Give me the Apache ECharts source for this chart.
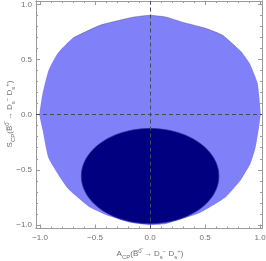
<!DOCTYPE html>
<html><head><meta charset="utf-8">
<script src="https://cdn.jsdelivr.net/npm/echarts@6/dist/echarts.min.js"></script>
<style>html,body{margin:0;padding:0;background:#fff}#c{width:266px;height:261px}</style>
</head><body><div id="c"></div>
<script>
// axis ranges and ticks
const xRange = [-1.037, 1.017];
const yRange = [-1.033, 1.032];
const majorTicks = [-1, -0.5, 0, 0.5, 1];
const minorTicks = [-0.9, -0.8, -0.7, -0.6, -0.4, -0.3, -0.2, -0.1, 0.1, 0.2, 0.3, 0.4, 0.6, 0.7, 0.8, 0.9];

// allowed region (light blue), boundary points clockwise
const regionX = [-0.705, -0.46, -0.16, 0.0, 0.15, 0.295, 0.505, 0.66, 0.84, 0.905, 0.977, 1.005, 0.986, 0.959, 0.914, 0.823, 0.677, 0.45, 0.14, 0.0, -0.16, -0.368, -0.55, -0.75, -0.923, -0.977, -1.005, -0.977, -0.923, -0.84];
const regionY = [0.694, 0.81, 0.884, 0.902, 0.885, 0.839, 0.784, 0.72, 0.558, 0.467, 0.286, 0.014, -0.14, -0.295, -0.44, -0.594, -0.757, -0.893, -0.993, -1.002, -0.984, -0.921, -0.839, -0.667, -0.395, -0.14, 0.0, 0.195, 0.404, 0.558];
const topEdgeCount = 9; // first points forming the grey-edged top boundary

// measured ellipse (dark)
const ellipseCenter = [0.0, -0.557];
const ellipseRadii = [0.625, 0.432];

// guide lines
const guideX = 0;
const guideY = 0;

// axis titles
const proc = '{t|(B\u0305}{sup|0\u0305}{t| \u2192 D}{sub|s}{sup|\u2212}{t| D}{sub|s}{sup|+}{t|)}';
const xTitle = '{t|A}{sub|CP}' + proc;
const yTitle = '{t|S}{sub|CP}' + proc;

const font = 'Liberation Sans, Arial, sans-serif';
const tickColor = '#9a9a9a';
const labelColor = '#707070';

function xAxisDef(pos, ticks, len, labels) {
  return {
    type: 'value', position: pos, min: xRange[0], max: xRange[1],
    axisLine: { show: true, onZero: false, lineStyle: { color: tickColor, width: 1 } },
    axisTick: { show: true, inside: true, length: len, customValues: ticks, lineStyle: { color: tickColor } },
    axisLabel: labels ? { show: true, customValues: ticks, margin: 5, fontSize: 8, color: labelColor, fontFamily: font,
      formatter: v => (v < 0 ? '\u2212' : '') + Math.abs(v).toFixed(1) } : { show: false },
    splitLine: { show: false }
  };
}
function yAxisDef(pos, ticks, len, labels) {
  return {
    type: 'value', position: pos, min: yRange[0], max: yRange[1],
    axisLine: { show: true, onZero: false, lineStyle: { color: tickColor, width: 1 } },
    axisTick: { show: true, inside: true, length: len, customValues: ticks, lineStyle: { color: tickColor } },
    axisLabel: labels ? { show: true, customValues: ticks, margin: 4, fontSize: 8, color: labelColor, fontFamily: font,
      formatter: v => (v < 0 ? '\u2212' : '') + Math.abs(v).toFixed(1) } : { show: false },
    splitLine: { show: false }
  };
}

const richStyles = {
  t: { fontSize: 8, fill: labelColor, color: labelColor, fontFamily: font, lineHeight: 12, verticalAlign: 'middle' },
  sub: { fontSize: 6, fill: labelColor, color: labelColor, fontFamily: font, lineHeight: 6, verticalAlign: 'bottom' },
  sup: { fontSize: 6, fill: labelColor, color: labelColor, fontFamily: font, lineHeight: 6, verticalAlign: 'top' }
};

const xAxes = [xAxisDef('bottom', majorTicks, 4, true), xAxisDef('bottom', minorTicks, 2, false),
               xAxisDef('top', majorTicks, 4, false), xAxisDef('top', minorTicks, 2, false)];
const yAxes = [yAxisDef('left', majorTicks, 4, true), yAxisDef('left', minorTicks, 2, false),
               yAxisDef('right', majorTicks, 4, false), yAxisDef('right', minorTicks, 2, false)];

const chart = echarts.init(document.getElementById('c'), null, { renderer: 'canvas' });
chart.setOption({
  animation: false,
  grid: { left: 36, right: 4, top: 1, bottom: 32.5, containLabel: false, outerBoundsMode: 'none' },
  xAxis: xAxes,
  yAxis: yAxes,
  graphic: [
    { type: 'text', x: 150, y: 254, z: 20,
      style: { text: xTitle, rich: richStyles, align: 'center', verticalAlign: 'middle', fill: labelColor, fontSize: 8, fontFamily: font } },
    { type: 'text', x: 10, y: 114, rotation: Math.PI / 2, z: 20,
      style: { text: yTitle, rich: richStyles, align: 'center', verticalAlign: 'middle', fill: labelColor, fontSize: 8, fontFamily: font } }
  ],
  series: [
    {
      type: 'custom', name: 'region', z: 2, clip: true,
      data: regionX.map((x, i) => [x, regionY[i]]),
      renderItem: function (params, api) {
        if (params.dataIndex !== 0) return null;
        const pts = regionX.map((x, i) => api.coord([x, regionY[i]]));
        return {
          type: 'group',
          children: [
            { type: 'polygon', shape: { points: pts, smooth: 0.15 }, style: { fill: '#8080f9', stroke: null } },
            { type: 'polyline', shape: { points: pts.slice(0, topEdgeCount), smooth: 0.15 }, style: { fill: null, stroke: 'rgba(90,90,120,0.6)', lineWidth: 0.8 } }
          ]
        };
      }
    },
    {
      type: 'custom', name: 'ellipse', z: 3, clip: true,
      data: [[ellipseCenter[0], ellipseCenter[1], ellipseRadii[0], ellipseRadii[1]]],
      renderItem: function (params, api) {
        const c = api.coord([api.value(0), api.value(1)]);
        const s = api.size([api.value(2), api.value(3)]);
        const pts = [];
        for (let k = 0; k < 120; k++) {
          const a = k / 120 * Math.PI * 2;
          pts.push([c[0] + s[0] * Math.cos(a), c[1] + s[1] * Math.sin(a)]);
        }
        return { type: 'polygon', shape: { points: pts }, style: { fill: '#000080', stroke: 'rgba(40,40,150,0.7)', lineWidth: 1 } };
      }
    },
    {
      type: 'line', name: 'guides', z: 10, data: [], symbol: 'none',
      markLine: {
        silent: true, symbol: 'none', animation: false,
        label: { show: false },
        lineStyle: { type: [4, 3], color: '#444a5a', width: 1 },
        data: [{ xAxis: guideX }, { yAxis: guideY }]
      }
    }
  ]
});
</script>
</body></html>
